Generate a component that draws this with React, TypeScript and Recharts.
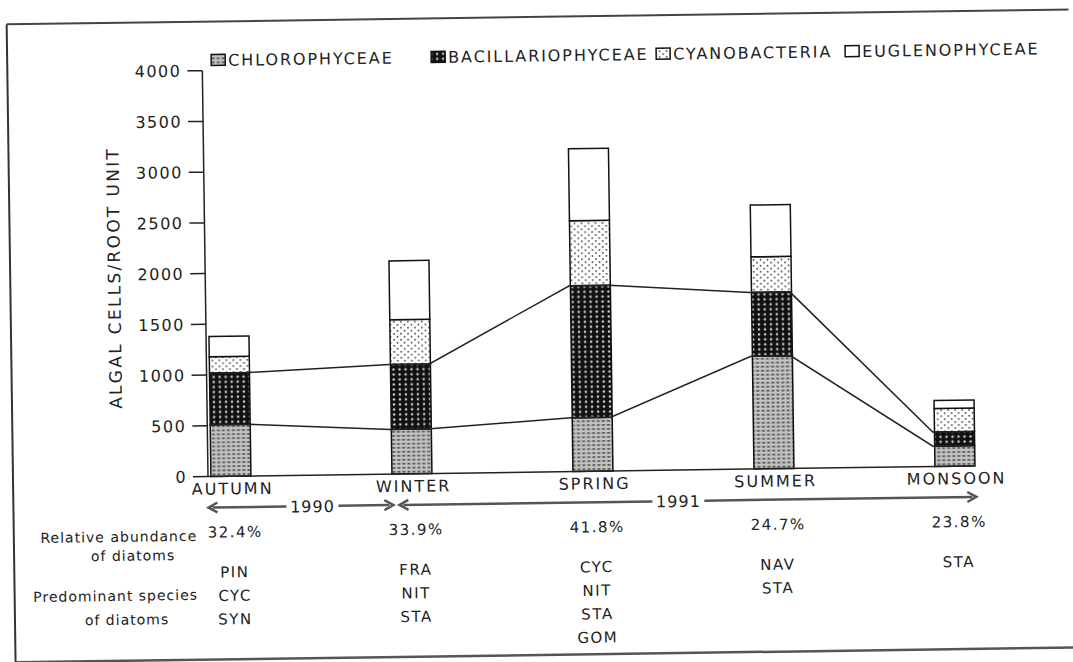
import { ComposedChart, Bar, Line, XAxis, YAxis } from "recharts";

const SEASONS = ["AUTUMN", "WINTER", "SPRING", "SUMMER", "MONSOON"];
const CHLOROPHYCEAE = [510, 440, 530, 1110, 200];
const BACILLARIOPHYCEAE = [510, 640, 1300, 630, 140];
const CYANOBACTERIA = [160, 440, 640, 350, 230];
const EUGLENOPHYCEAE = [200, 580, 710, 510, 80];
const DIATOM_ABUNDANCE = ["32.4%", "33.9%", "41.8%", "24.7%", "23.8%"];
const DIATOM_SPECIES = [
  ["PIN", "CYC", "SYN"],
  ["FRA", "NIT", "STA"],
  ["CYC", "NIT", "STA", "GOM"],
  ["NAV", "STA"],
  ["STA"],
];
const Y_TICKS = [0, 500, 1000, 1500, 2000, 2500, 3000, 3500, 4000];

const LEGEND = [
  { name: "CHLOROPHYCEAE", fill: "url(#pChloro)", x: 215 },
  { name: "BACILLARIOPHYCEAE", fill: "url(#pBacill)", x: 435 },
  { name: "CYANOBACTERIA", fill: "url(#pCyano)", x: 660 },
  { name: "EUGLENOPHYCEAE", fill: "#fff", x: 849 },
];

const FONT = "'DejaVu Sans', sans-serif";
const INK = "#222";
const X_DOMAIN = [-0.124, 4.102];
const BAR_HALF = 0.11;

const rows = SEASONS.map((s, i) => ({
  x: i,
  season: s,
  chloro: CHLOROPHYCEAE[i],
  bacill: BACILLARIOPHYCEAE[i],
  cyano: CYANOBACTERIA[i],
  eugl: EUGLENOPHYCEAE[i],
}));

// connecting lines run along the segment tops, bar edge to bar edge
const lowerLine = SEASONS.flatMap((_, i) => [
  { x: i - BAR_HALF, v: CHLOROPHYCEAE[i] },
  { x: i + BAR_HALF, v: CHLOROPHYCEAE[i] },
]);
const upperLine = SEASONS.flatMap((_, i) => [
  { x: i - BAR_HALF, v: CHLOROPHYCEAE[i] + BACILLARIOPHYCEAE[i] },
  { x: i + BAR_HALF, v: CHLOROPHYCEAE[i] + BACILLARIOPHYCEAE[i] },
]);

const SeasonTick = ({ x, y, payload }: any) => {
  const i = payload.value;
  const t = { fontFamily: FONT, fill: INK, textAnchor: "middle" as const };
  return (
    <g>
      <text x={x + 2} y={y + 18} fontSize={16} letterSpacing={2} {...t}>
        {SEASONS[i]}
      </text>
      <text x={x + 4} y={y + 61} fontSize={15} letterSpacing={1.5} {...t}>
        {DIATOM_ABUNDANCE[i]}
      </text>
      {DIATOM_SPECIES[i].map((s, k) => (
        <text key={s + k} x={x + 3} y={y + 101 + k * 23.5} fontSize={15} letterSpacing={1.5} {...t}>
          {s}
        </text>
      ))}
    </g>
  );
};

function Arrow({ x1, x2, y, label, lx }: any) {
  const gap = 26;
  return (
    <g stroke="#555" strokeWidth={2.5} fill="none">
      <line x1={x1 + 4} y1={y} x2={lx - gap} y2={y} />
      <line x1={lx + gap} y1={y} x2={x2 - 4} y2={y} />
      <polyline points={`${x1 + 9},${y - 5} ${x1},${y} ${x1 + 9},${y + 5}`} />
      <polyline points={`${x2 - 9},${y - 5} ${x2},${y} ${x2 - 9},${y + 5}`} />
      <text x={lx} y={y + 6} fontSize={16} fontFamily={FONT} fill={INK} stroke="none" textAnchor="middle" letterSpacing={1}>
        {label}
      </text>
    </g>
  );
}

export default function App() {
  const small = { fontFamily: FONT, fill: INK, fontSize: 14, letterSpacing: 1, textAnchor: "middle" as const };
  return (
    <div style={{ position: "fixed", left: 0, top: 0, width: 1073, height: 662, overflow: "hidden", background: "#fff" }}>
      <div
        style={{
          position: "absolute",
          left: 0,
          top: 0,
          width: 1073,
          height: 662,
          transform: "rotate(-0.8deg)",
          transformOrigin: "50% 50%",
        }}
      >
        <svg width={1073} height={662} style={{ position: "absolute", left: 0, top: 0 }}>
          <defs>
            <pattern id="pChloro" width={5} height={4} patternUnits="userSpaceOnUse">
              <rect width={5} height={4} fill="#c4c4c4" />
              <rect x={0.5} y={1.2} width={3} height={1.4} fill="#3c3c3c" />
            </pattern>
            <pattern id="pBacill" width={6} height={5} patternUnits="userSpaceOnUse">
              <rect width={6} height={5} fill="#111" />
              <circle cx={3} cy={2.5} r={1.2} fill="#d0d0d0" />
            </pattern>
            <pattern id="pCyano" width={7} height={6} patternUnits="userSpaceOnUse">
              <rect width={7} height={6} fill="#fff" />
              <circle cx={2} cy={1.8} r={0.9} fill="#333" />
              <circle cx={5.5} cy={4.8} r={0.9} fill="#333" />
            </pattern>
          </defs>

          {/* frame */}
          <g fill="none">
            <line x1={11} y1={17} x2={1100} y2={17} stroke="#444" strokeWidth={2} />
            <line x1={11} y1={17} x2={11} y2={655} stroke="#333" strokeWidth={2} />
            <line x1={11} y1={655} x2={1100} y2={655} stroke="#555" strokeWidth={2.5} />
          </g>

          {/* legend */}
          {LEGEND.map((l) => (
            <g key={l.name}>
              <rect x={l.x} y={50} width={14} height={11} fill={l.fill} stroke="#111" strokeWidth={1.5} />
              <text x={l.x + 17} y={56} dominantBaseline="central" fontSize={16} letterSpacing={1.9} fontFamily={FONT} fill={INK}>
                {l.name}
              </text>
            </g>
          ))}

          <text
            x={115}
            y={272}
            transform="rotate(-90 115 272)"
            textAnchor="middle"
            dominantBaseline="central"
            fontSize={17}
            letterSpacing={2.3}
            fontFamily={FONT}
            fill={INK}
          >
            ALGAL CELLS/ROOT UNIT
          </text>

          <text x={116} y={536} {...small}>Relative abundance</text>
          <text x={130} y={555} {...small}>of diatoms</text>
          <text x={112} y={595} {...small}>Predominant species</text>
          <text x={123} y={619} {...small}>of diatoms</text>

          <Arrow x1={206} x2={391} y={503} label="1990" lx={310} />
          <Arrow x1={397} x2={974} y={503} label="1991" lx={676} />
        </svg>

        <ComposedChart
          width={1073}
          height={662}
          data={rows}
          margin={{ top: 66, right: 102, left: 146, bottom: 160 }}
          style={{ position: "absolute", left: 0, top: 0 }}
        >
          <XAxis
            dataKey="x"
            type="number"
            domain={X_DOMAIN}
            ticks={[0, 1, 2, 3, 4]}
            interval={0}
            height={30}
            tickSize={0}
            tickMargin={0}
            tickLine={false}
            axisLine={{ stroke: INK, strokeWidth: 1.5 }}
            tick={<SeasonTick />}
          />
          <XAxis xAxisId="edges" dataKey="x" type="number" domain={X_DOMAIN} hide height={0} />
          <YAxis
            type="number"
            domain={[0, 4000]}
            ticks={Y_TICKS}
            interval={0}
            width={60}
            tickSize={15}
            tickMargin={6}
            axisLine={{ stroke: INK, strokeWidth: 1.5 }}
            tickLine={{ stroke: INK, strokeWidth: 1.5 }}
            tick={{ fontSize: 16, fill: INK, fontFamily: FONT, letterSpacing: 1.5 }}
          />
          <Bar dataKey="chloro" stackId="a" barSize={40} fill="url(#pChloro)" stroke="#111" strokeWidth={1.5} isAnimationActive={false} />
          <Bar dataKey="bacill" stackId="a" barSize={40} fill="url(#pBacill)" stroke="#111" strokeWidth={1.5} isAnimationActive={false} />
          <Bar dataKey="cyano" stackId="a" barSize={40} fill="url(#pCyano)" stroke="#111" strokeWidth={1.5} isAnimationActive={false} />
          <Bar dataKey="eugl" stackId="a" barSize={40} fill="#fff" stroke="#111" strokeWidth={1.5} isAnimationActive={false} />
          <Line xAxisId="edges" data={lowerLine} dataKey="v" type="linear" stroke={INK} strokeWidth={1.5} dot={false} isAnimationActive={false} />
          <Line xAxisId="edges" data={upperLine} dataKey="v" type="linear" stroke={INK} strokeWidth={1.5} dot={false} isAnimationActive={false} />
        </ComposedChart>
      </div>
    </div>
  );
}
